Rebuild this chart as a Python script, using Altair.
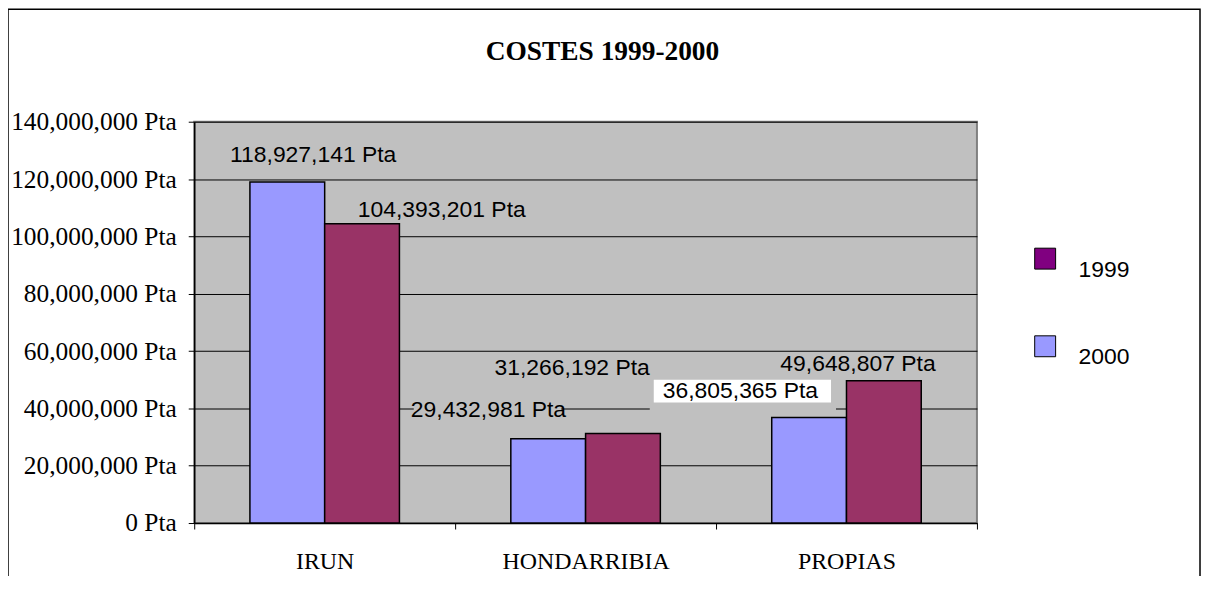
import altair as alt
import pandas as pd

categories = ["IRUN", "HONDARRIBIA", "PROPIAS"]
series = ["2000", "1999"]
values_2000 = [118927141, 29432981, 36805365]
values_1999 = [104393201, 31266192, 49648807]
y_ticks = [0, 20000000, 40000000, 60000000, 80000000, 100000000, 120000000, 140000000]

rows = []
for c, a, b in zip(categories, values_2000, values_1999):
    rows.append({"cat": c, "series": "2000", "value": a})
    rows.append({"cat": c, "series": "1999", "value": b})
df = pd.DataFrame(rows)

W, H = 786, 403
PAD_L, PAD_T = 187, 113

x_enc = alt.X("cat:N", sort=categories, title=None,
              scale=alt.Scale(paddingInner=0, paddingOuter=0),
              axis=alt.Axis(tickBand="extent", labelFont="Liberation Serif", labelFontSize=24,
                            labelColor="black", labelPadding=21, tickColor="black", tickSize=6,
                            domainColor="black", domainWidth=1.5, labelAngle=0, grid=False))
xo_enc = alt.XOffset("series:N", sort=series,
                     scale=alt.Scale(domain=series, paddingInner=0, paddingOuter=0.745))
y_enc = alt.Y("value:Q", title=None,
              scale=alt.Scale(domain=[0, 140000000], nice=False),
              axis=alt.Axis(values=y_ticks, labelExpr="format(datum.value, ',') + ' Pta'",
                            labelFont="Liberation Serif", labelFontSize=25.5, labelColor="black",
                            labelPadding=12, tickColor="black", tickSize=6, domainColor="black",
                            domainWidth=1.5, gridColor="black", gridWidth=1, gridOpacity=1))

base = alt.Chart(df)

bars = base.mark_bar(stroke="black", strokeWidth=1.5).encode(
    x=x_enc, xOffset=xo_enc, y=y_enc,
    fill=alt.Fill("series:N", scale=alt.Scale(domain=["1999", "2000"], range=["#993366", "#9999FF"]),
                  legend=None),
)

legend_layer = base.mark_square(size=0, opacity=1).encode(
    x=alt.X("cat:N", sort=categories), xOffset=alt.XOffset("series:N", sort=series), y=alt.Y("value:Q"),
    color=alt.Color("series:N", scale=alt.Scale(domain=["1999", "2000"], range=["#800080", "#9999FF"]),
                    legend=alt.Legend(title=None, orient="none", legendX=843, legendY=126,
                                      symbolType="square", symbolSize=441, symbolStrokeColor="black",
                                      symbolStrokeWidth=1, symbolOpacity=1, labelFont="Liberation Sans",
                                      labelFontSize=23, labelColor="black", labelBaseline="top",
                                      labelOffset=22, rowPadding=52, padding=0)),
)

# label offsets relative to each bar's top centre (styling of the Excel-placed labels)
label_pos = {
    ("IRUN", "2000"): (26, -27),
    ("IRUN", "1999"): (80, -14),
    ("HONDARRIBIA", "2000"): (-60, -29),
    ("HONDARRIBIA", "1999"): (-51, -66),
    ("PROPIAS", "2000"): (-69, -27),
    ("PROPIAS", "1999"): (-26, -17),
}

layers = [bars, legend_layer]

# label backgrounds (grey / white boxes behind two labels)
boxes = [
    (("HONDARRIBIA", "2000"), "#C0C0C0", "M-135,-40H13V-19H-135Z"),
    (("PROPIAS", "2000"), "#C0C0C0", "M-160,-38H27V-5H-160Z"),
    (("PROPIAS", "2000"), "white", "M-156,-38H22V-15H-156Z"),
]
for (c, s), col, path in boxes:
    layers.append(
        base.transform_filter((alt.datum.cat == c) & (alt.datum.series == s))
        .mark_point(shape=path, size=4, filled=True, fill=col, opacity=1, strokeWidth=0)
        .encode(x=alt.X("cat:N", sort=categories), xOffset=alt.XOffset("series:N", sort=series),
                y=alt.Y("value:Q"))
    )

for (c, s), (dx, dy) in label_pos.items():
    layers.append(
        base.transform_filter((alt.datum.cat == c) & (alt.datum.series == s))
        .transform_calculate(label="format(datum.value, ',') + ' Pta'")
        .mark_text(font="Liberation Sans", fontSize=23, color="black", dx=dx, dy=dy,
                   align="center", baseline="middle")
        .encode(x=alt.X("cat:N", sort=categories), xOffset=alt.XOffset("series:N", sort=series),
                y=alt.Y("value:Q"), text="label:N")
    )

frame = alt.Chart(pd.DataFrame({"a": [0]})).mark_rect(fill=None, stroke="black", strokeWidth=1.5).encode(
    x=alt.value(-187), x2=alt.value(1010), y=alt.value(-113), y2=alt.value(600)
)
layers.append(frame)

chart = alt.layer(*layers).properties(
    width=W, height=H,
    title=alt.TitleParams("COSTES 1999-2000", font="Liberation Serif", fontSize=27.5, fontWeight="bold",
                          color="black", anchor="middle", dx=17, offset=0, dy=57),
    autosize=alt.AutoSizeParams(type="none"),
    padding={"left": PAD_L, "top": PAD_T, "right": 226, "bottom": 52},
    background="white",
).resolve_scale(fill="independent", color="independent").configure_view(
    fill="#C0C0C0", stroke="#808080", strokeWidth=2
)

chart.save("out.html", embed_options={"renderer": "svg", "actions": False})
